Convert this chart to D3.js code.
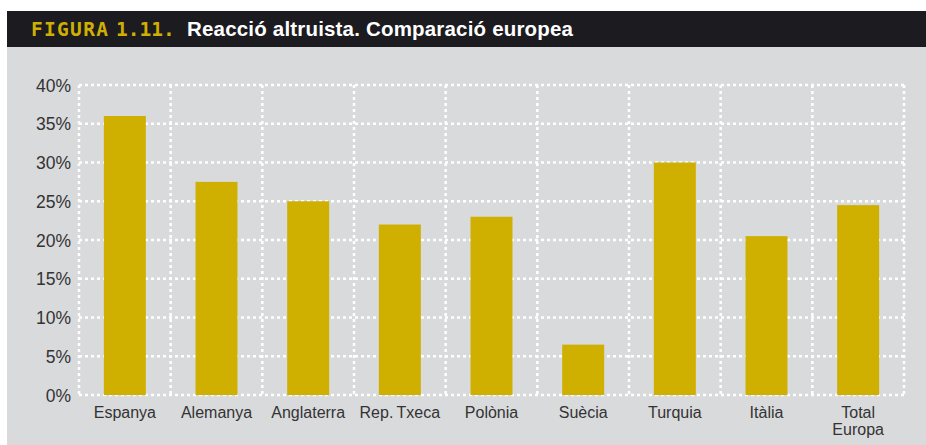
<!DOCTYPE html>
<html><head><meta charset="utf-8">
<script src="https://cdn.jsdelivr.net/npm/d3@7"></script>
<style>
html,body{margin:0;padding:0;background:#fff;}
svg{display:block;}
</style></head>
<body>
<svg id="chart" width="926" height="445"></svg>
<script>
const categories = ["Espanya","Alemanya","Anglaterra","Rep.\u2009Txeca","Polònia","Suècia","Turquia","Itàlia","Total Europa"];
const values = [36, 27.5, 25, 22, 23, 6.5, 30, 20.5, 24.5];
const yTicks = [0,5,10,15,20,25,30,35,40];
const titleLabel = "FIGURA 1.11.";
const titleText = "Reacció altruista. Comparació europea";

const svg = d3.select("#chart");
// background panels
svg.append("rect").attr("x",7).attr("y",11).attr("width",919).attr("height",36).attr("fill","#1c1b20");
svg.append("rect").attr("x",7).attr("y",47).attr("width",919).attr("height",398).attr("fill","#d9dadc");

const lbl = svg.append("text").attr("y",36)
  .attr("font-family","'DejaVu Sans Mono', 'Liberation Mono', monospace").attr("font-weight","bold")
  .attr("font-size",19.5).attr("fill","#cfb000");
const lblParts = titleLabel.split(" ");
lbl.append("tspan").attr("x",31).attr("letter-spacing",1.3).text(lblParts[0]);
lbl.append("tspan").attr("x",116).attr("letter-spacing",0).text(lblParts[1]);

svg.append("text").attr("x",187).attr("y",36)
  .attr("font-family","'Liberation Sans', Arial, sans-serif").attr("font-weight","bold")
  .attr("font-size",20.5).attr("fill","#ffffff")
  .attr("textLength",386).attr("lengthAdjust","spacing").text(titleText);

const m = {left:79, right:904, top:85, bottom:395};
const x = d3.scaleBand().domain(categories).range([m.left, m.right]).paddingInner(0).paddingOuter(0);
const y = d3.scaleLinear().domain([0,40]).range([m.bottom, m.top]);

const grid = svg.append("g");
// horizontal gridlines
grid.selectAll("line.h").data(yTicks).join("line").attr("class","h")
  .attr("x1",m.left).attr("x2",m.right).attr("y1",d=>y(d)).attr("y2",d=>y(d))
  .attr("stroke","#ffffff").attr("stroke-width",2.5).attr("stroke-dasharray","3,3");
// vertical gridlines at band boundaries
const bounds = categories.map(c=>x(c)).concat([m.right]);
grid.selectAll("line.v").data(bounds).join("line").attr("class","v")
  .attr("x1",d=>d).attr("x2",d=>d).attr("y1",m.top).attr("y2",m.bottom)
  .attr("stroke","#ffffff").attr("stroke-width",2.5).attr("stroke-dasharray","3,3");

// bars
const bw = x.bandwidth()*0.458;
svg.append("g").selectAll("rect").data(values).join("rect")
  .attr("x",(d,i)=>x(categories[i]) + x.bandwidth()/2 - bw/2)
  .attr("width",bw)
  .attr("y",d=>y(d)).attr("height",d=>y(0)-y(d))
  .attr("fill","#cfb000");

// y axis labels
const yAxis = d3.axisLeft(y).tickValues(yTicks).tickFormat(d=>d+"%").tickSize(0).tickPadding(8);
const ya = svg.append("g").attr("transform",`translate(${m.left},0)`).call(yAxis);
ya.select(".domain").remove();
ya.selectAll("text").attr("font-family","'Liberation Sans', Arial, sans-serif").attr("font-size",17.5)
  .attr("fill","#333").attr("dy","0.35em");

// x axis labels
const xAxis = d3.axisBottom(x).tickSize(0).tickPadding(0);
const xa = svg.append("g").attr("transform",`translate(0,${m.bottom})`).call(xAxis);
xa.select(".domain").remove();
xa.selectAll("text").attr("font-family","'Liberation Sans', Arial, sans-serif").attr("font-size",16)
  .attr("fill","#333").attr("y",0).attr("dy",null)
  .each(function(d){
    const t = d3.select(this);
    t.text(null);
    const parts = d === "Total Europa" ? ["Total","Europa"] : [d];
    parts.forEach((p,i)=>t.append("tspan").attr("x",0).attr("y",23 + i*17).text(p));
  });
</script>
</body></html>
